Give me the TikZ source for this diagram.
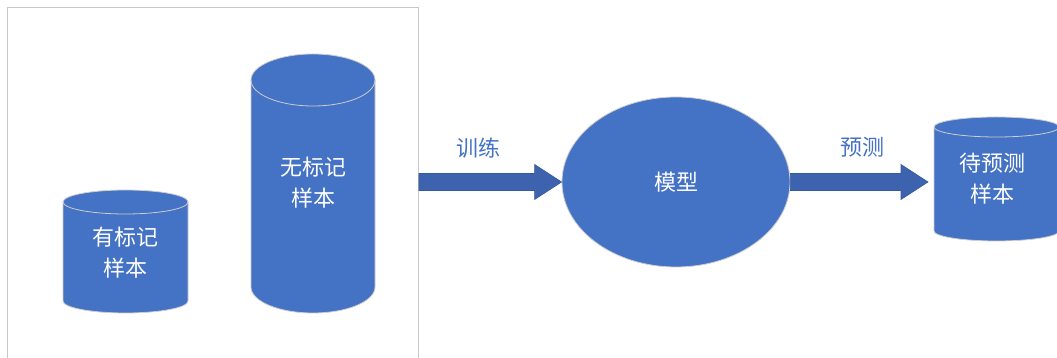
\documentclass[tikz,border=0pt]{standalone}
\usepackage{fontspec}
\newfontfamily\cjk{Noto Sans CJK SC}
\usetikzlibrary{shapes.geometric,calc}
\definecolor{cylblue}{HTML}{4472C4}
\definecolor{arrblue}{HTML}{3D63AE}
\definecolor{arredge}{HTML}{35599F}
\definecolor{edgegray}{HTML}{CDCDCD}
\definecolor{framegray}{HTML}{C8C8C8}
\newcommand\drawcyl[5]{%
  \filldraw[cylbody] (#1-#2,#3) -- (#1-#2,#4)
    arc[start angle=180,end angle=360,x radius=#2,y radius=#5]
    -- (#1+#2,#3)
    arc[start angle=0,end angle=180,x radius=#2,y radius=#5] -- cycle;
  \draw[cylbody,fill=none] (#1-#2,#3)
    arc[start angle=180,end angle=360,x radius=#2,y radius=#5];
}
\newcommand\blockarrow[2]{%
  \path let \p1=(#1), \p2=(#2) in
    [fill=arrblue,draw=arredge,line width=0.6pt]
    (\x1,\y1+8.5pt) -- (\x2-27pt,\y1+8.5pt) -- (\x2-27pt,\y1+17.5pt)
    -- (\x2,\y1) -- (\x2-27pt,\y1-17.5pt) -- (\x2-27pt,\y1-8.5pt)
    -- (\x1,\y1-8.5pt) -- cycle;
}
\begin{document}
\begin{tikzpicture}[x=1pt,y=1pt,
  cylbody/.style={fill=cylblue,draw=edgegray,line width=0.8pt},
  celltext/.style={text=white,align=center,inner sep=0pt,
    font=\cjk\fontsize{22}{31}\selectfont},
  arrlabel/.style={text=cylblue,inner sep=0pt,
    font=\cjk\fontsize{22}{31}\selectfont}]
\useasboundingbox (0,0) rectangle (1057,358);
\clip (0,0) rectangle (1057,358);
\fill[white] (0,0) rectangle (1057,358);
% frame
\node[draw=framegray,line width=0.8pt,minimum width=411pt,minimum height=360pt,
  inner sep=0pt,anchor=north west] (frame) at (7,351) {};
% cylinders
\drawcyl{125.5}{62.5}{156}{57}{12}
\drawcyl{313}{62}{278}{71}{26}
\drawcyl{996.5}{62.5}{231}{127}{10}
\node[celltext] (labeled) at (125,105.5) {有标记\\样本};
\node[celltext] (unlabeled) at (313,175) {无标记\\样本};
\node[celltext] (topredict) at (992,179.5) {待预测\\样本};
% model
\node[ellipse,fill=cylblue,draw=edgegray,line width=0.8pt,minimum width=228pt,
  minimum height=170pt,inner sep=0pt,text=white,
  font=\cjk\fontsize{22}{31}\selectfont] (model) at (676,176) {模型};
\coordinate (tip2) at (928,176);
% arrows
\blockarrow{frame.east |- model.west}{model.west}
\blockarrow{model.east}{tip2}
\node[arrlabel] (train) at (478,210) {训练};
\node[arrlabel] (pred) at (862,210.5) {预测};
\end{tikzpicture}
\end{document}
